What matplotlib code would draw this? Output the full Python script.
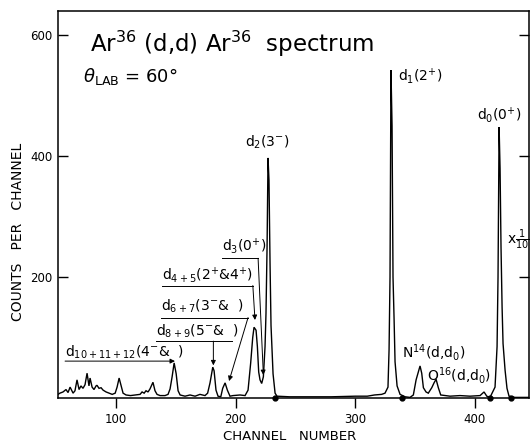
import numpy as np
from matplotlib import pyplot as plt

plt.rcParams['font.family'] = ['DejaVu Sans']
plt.rcParams['mathtext.default'] = 'regular'

# spectrum read channel by channel (counts; big peaks already scaled)
channel = [51.4, 53.0, 55.6, 58.1, 59.8, 61.5, 64.0, 65.6, 67.3, 69.0, 70.6, 72.3,
           74.0, 75.7, 77.3, 78.2, 79.9, 81.5, 83.2, 84.0, 85.7, 87.4, 89.1, 91.6,
           94.1, 96.7, 99.2, 100.8, 102.5, 104.2, 105.8, 108.3, 112.0, 116.0, 120.0,
           121.7, 123.4, 125.0, 126.7, 128.3, 130.8, 132.5, 134.2, 136.7, 140.9,
           143.4, 145.1, 146.8, 148.5, 150.2, 151.8, 153.5, 157.6, 161.8, 166.0,
           170.1, 174.3, 176.5, 178.5, 180.8, 181.9, 183.5, 185.2, 187.5, 189.1,
           191.1, 193.0, 195.2, 197.7, 203.6, 207.8, 210.3, 212.5, 214.2, 215.3,
           217.0, 218.1, 219.2, 220.3, 221.7, 223.1, 224.5, 225.3, 226.2, 227.0,
           227.8, 228.7, 229.5, 231.2, 232.9, 234.5, 245.0, 260.0, 280.0, 300.0,
           310.0, 316.0, 322.0, 324.8, 327.3, 328.2, 329.0, 329.8, 330.7, 331.5,
           332.4, 333.2, 334.9, 337.4, 341.6, 345.7, 348.5, 350.8, 352.7, 354.1,
           355.5, 356.9, 359.1, 361.0, 363.9, 365.8, 367.5, 369.4, 371.4, 379.2,
           387.5, 395.9, 404.3, 407.6, 409.9, 412.6, 416.8, 418.5, 419.3, 420.2,
           421.0, 421.8, 422.7, 423.5, 425.2, 426.8, 428.5, 433.5, 445.2]
counts = [6, 8, 10, 14, 9, 18, 8, 12, 30, 14, 20, 16,
          22, 41, 20, 33, 18, 14, 20, 21, 16, 17, 13, 10,
          8, 6, 8, 18, 33, 20, 8, 5, 4, 5, 6,
          10, 8, 12, 10, 15, 26, 12, 6, 4, 4,
          6, 15, 35, 58, 40, 12, 5, 3, 5, 3,
          6, 4, 8, 25, 51, 45, 13, 3, 2, 16,
          25, 13, 3, 4, 5, 4, 13, 58, 100, 117,
          112, 85, 43, 30, 24, 35, 85, 140, 250, 397,
          360, 220, 120, 40, 8, 3, 2, 2, 2, 3,
          3, 5, 6, 8, 18, 80, 200, 542, 450, 200,
          130, 60, 20, 6, 2, 1, 5, 30, 43, 53,
          41, 17, 10, 8, 17, 25, 31, 17, 5, 3,
          4, 3, 4, 10, 3, 1, 18, 85, 200, 448,
          380, 250, 150, 90, 46, 16, 3, 1, 1]

# end marks of the scaled sections, on the axis
mark_channels = [233, 339, 412.6, 430]

x_ticks = [100, 200, 300, 400]
y_ticks = [200, 400, 600]

fig = plt.figure(figsize=(5.31, 4.45), dpi=100)
ax = fig.add_axes([58 / 531, 47 / 445, 471 / 531, 387 / 445])

ax.plot(channel, counts, color='k', lw=1.0, solid_joinstyle='miter')
ax.plot(mark_channels, np.zeros(len(mark_channels)), 'o', color='k',
        markersize=3.5, clip_on=False)

ax.set_xlim(51.4, 445.2)
ax.set_ylim(0, 640)
ax.set_xticks(x_ticks)
ax.set_yticks(y_ticks)
ax.tick_params(axis='x', direction='out', length=7, width=1.0, labelsize=8.5, pad=4)
ax.tick_params(axis='y', direction='in', length=7, width=1.0, labelsize=8.5,
               right=True, pad=4)
for s in ax.spines.values():
    s.set_linewidth(1.1)

fig.text(290 / 531, 1 - 437 / 445, 'CHANNEL   NUMBER', fontsize=9.5,
         ha='center', va='center')
fig.text(18 / 531, 1 - 232 / 445, 'COUNTS   PER   CHANNEL', rotation=90,
         fontsize=10, ha='center', va='center')

# titles
ax.text(78, 572, r'Ar$^{36}$ (d,d) Ar$^{36}$  spectrum', fontsize=16.5,
        va='baseline')
ax.text(72, 522, r'$\mathit{\theta}_{LAB}$ = 60°', fontsize=13, va='baseline')

# peak labels
lab = 10
ax.text(207.7, 415, r'd$_2$(3$^{-}$)', fontsize=lab, va='baseline')
ax.text(335.8, 524, r'd$_1$(2$^{+}$)', fontsize=lab, va='baseline')
ax.text(401.8, 460, r'd$_0$(0$^{+}$)', fontsize=lab, va='baseline')
ax.text(427.0, 261, r'x$\frac{1}{10}$', fontsize=lab, va='center')
ax.text(339, 66, r'N$^{14}$(d,d$_0$)', fontsize=lab, va='baseline')
ax.text(359.7, 28, r'O$^{16}$(d,d$_0$)', fontsize=lab, va='baseline')

arrow = dict(arrowstyle='-|>', lw=0.7, color='k', mutation_scale=7,
             shrinkA=0, shrinkB=0)

# (text, text x, baseline, leader y, leader end x, arrow start x, arrow tip)
leaders = [
    (r'd$_3$(0$^{+}$)', 188.7, 243, 231, 218.7, 218.7, (223.1, 38)),
    (r'd$_{4+5}$(2$^{+}$&4$^{+}$)', 138.5, 195, 186, 214.3, 214.3, (216.1, 129)),
    (r'd$_{6+7}$(3$^{-}$&  )', 137.7, 144, 133, 210.3, 210.3, (194.4, 28)),
    (r'd$_{8+9}$(5$^{-}$&  )', 133.3, 104, 94, 197.0, 181.3, (181.3, 54)),
]
for text, tx, ty, ly, lx, ax0, tip in leaders:
    ax.text(tx, ty, text, fontsize=lab, va='baseline')
    ax.plot([tx, lx], [ly, ly], color='k', lw=0.7)
    ax.annotate('', xy=tip, xytext=(ax0, ly), arrowprops=arrow)

ax.text(57.3, 68, r'd$_{10+11+12}$(4$^{-}$&  )', fontsize=lab, va='baseline')
ax.annotate('', xy=(149.2, 61), xytext=(57.3, 61), arrowprops=arrow)

fig.savefig('out.png', dpi=100)
